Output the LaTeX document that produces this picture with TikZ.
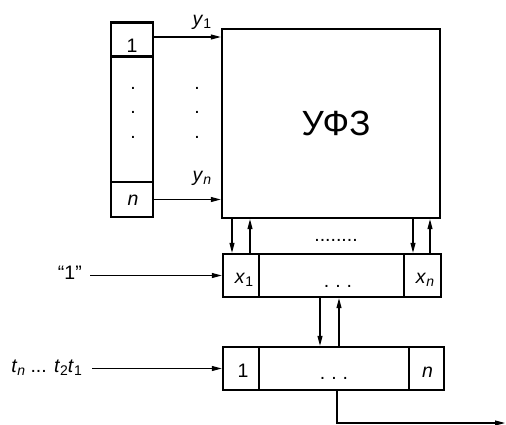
\documentclass[tikz,border=0pt]{standalone}
\usepackage{fontspec}
\setmainfont{Liberation Sans}
\usetikzlibrary{arrows.meta}
\newcommand\sbs[1]{\raisebox{-0.3ex}{\fontsize{14}{14}\selectfont #1}}
\begin{document}
\begin{tikzpicture}[x=1pt,y=-1pt,
  cell/.style={draw,line width=2.4pt,rectangle,inner sep=0pt},
  arr/.style={line width=1.1pt,-{Triangle[length=10pt,width=5pt]}},
  lab/.style={inner sep=0pt,anchor=base,font=\fontsize{19.5}{22}\selectfont},
  big/.style={inner sep=0pt,anchor=base,font=\fontsize{35}{38}\selectfont}]
\useasboundingbox (0,0) rectangle (506,424);
% left register
\node[cell,minimum width=42pt,minimum height=34pt] (c1) at (132,39.5) {};
\node[cell,minimum width=42pt,minimum height=125pt] (cm) at (132,119.5) {};
\node[cell,minimum width=42pt,minimum height=35pt] (cn) at (132,199.5) {};
\node[lab] (t1) at (132,52) {1};
\node[lab] (tn) at (133,205) {\textit{n}};
\node[lab] (d1) at (133,89.5) {.};
\node[lab] (d2) at (133,113.5) {.};
\node[lab] (d3) at (133,138.5) {.};
% big block
\node[cell,minimum width=218pt,minimum height=189pt] (ufz) at (331,123.5) {};
\node[big] (ufzt) at (336,135) {УФЗ};
% y labels and dots
\node[lab] (y1) at (202,25) {\textit{y}\sbs{1}};
\node[lab] (yn) at (202,181) {\textit{y}\sbs{\textit{n}}};
\node[lab] (e1) at (197,89.5) {.};
\node[lab] (e2) at (197,113.5) {.};
\node[lab] (e3) at (197,138.5) {.};
\draw[arr] ([yshift=2.5pt]c1.east) -- ([yshift=2.5pt]c1.east -| ufz.west);
\draw[arr] (cn.east) -- (cn.east -| ufz.west);
% x register
\node[cell,minimum width=36pt,minimum height=43pt] (x1) at (241,275.5) {};
\node[cell,minimum width=145pt,minimum height=43pt] (xm) at (331.5,275.5) {};
\node[cell,minimum width=37pt,minimum height=43pt] (xn) at (422.5,275.5) {};
\node[lab] (x1t) at (244,283) {\textit{x}\sbs{1}};
\node[lab] (xnt) at (425,283) {\textit{x}\sbs{\textit{n}}};
\node[lab] (xmt) at (338,287) {.\hspace{6pt}.\hspace{6pt}.};
\node[lab] (dots8) at (336,241) {........};
\draw[arr] ([xshift=-9pt]x1.north |- ufz.south) -- ([xshift=-9pt]x1.north);
\draw[arr] ([xshift=9pt]x1.north) -- ([xshift=9pt]x1.north |- ufz.south);
\draw[arr] ([xshift=-9.5pt]xn.north |- ufz.south) -- ([xshift=-9.5pt]xn.north);
\draw[arr] ([xshift=7.5pt]xn.north) -- ([xshift=7.5pt]xn.north |- ufz.south);
% quote input
\node[lab,anchor=base east] (q) at (82,279) {“1”};
\draw[arr] (90,275.5) coordinate (qs) -- (qs -| x1.west);
% bottom register
\node[cell,minimum width=36pt,minimum height=43pt] (b1) at (241,368.5) {};
\node[cell,minimum width=150pt,minimum height=43pt] (bm) at (334,368.5) {};
\node[cell,minimum width=35pt,minimum height=43pt] (bn) at (426.5,368.5) {};
\node[lab] (b1t) at (243,377) {1};
\node[lab] (bnt) at (427.5,377) {\textit{n}};
\node[lab] (bmt) at (334,379) {.\hspace{6pt}.\hspace{6pt}.};
\draw[arr] ([xshift=-11.5pt]xm.south) -- ([xshift=-14pt]bm.north);
\draw[arr] ([xshift=5pt]bm.north) -- ([xshift=7.5pt]xm.south);
% t input
\node[lab,anchor=base east] (tt) at (82,372) {\textit{t}\sbs{\textit{n}} ... \textit{t}\sbs{2}\textit{t}\sbs{1}};
\draw[arr] (92,368.5) coordinate (ts) -- (ts -| b1.west);
% output
\coordinate (out) at (505,423);
\draw[arr] ([xshift=3pt]bm.south) |- (out);
\end{tikzpicture}
\end{document}
